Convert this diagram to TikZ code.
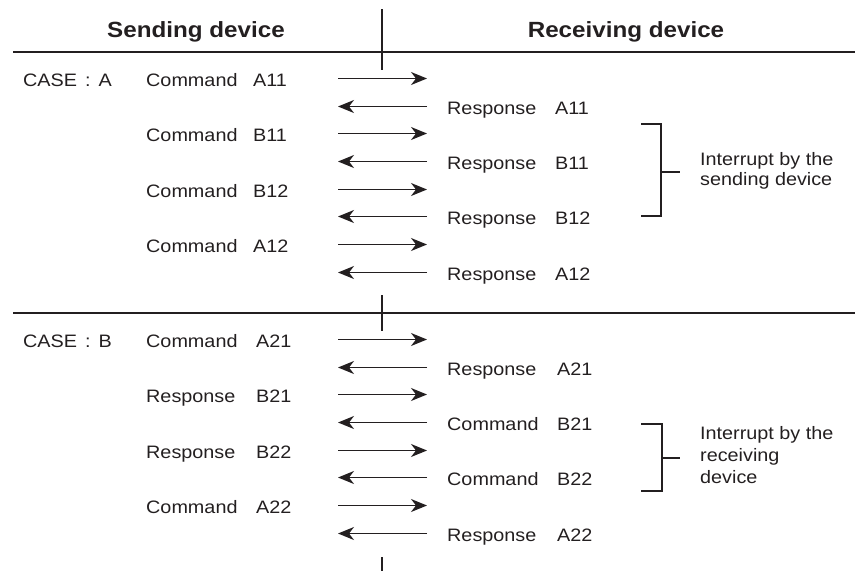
\documentclass[tikz,border=0pt]{standalone}
\usepackage{fontspec}
\setmainfont{Liberation Sans}[FakeStretch=1.1]
\usetikzlibrary{arrows.meta}
\definecolor{ink}{HTML}{231F20}
\begin{document}
\begin{tikzpicture}[x=1pt,y=-1pt,
 lbl/.style={anchor=base west, inner sep=0pt, font=\fontsize{18}{20}\selectfont, text=ink},
 hdr/.style={anchor=base, inner sep=0pt, font=\fontsize{22}{24}\selectfont\bfseries, text=ink},
 msg/.style={-{Stealth[length=16pt,width=13pt,inset=5pt]}, line width=1.3pt, draw=ink},
 divider/.style={line width=2.4pt, draw=ink},
 axis/.style={line width=1.5pt, draw=ink},
 brk/.style={line width=1.1pt, draw=ink}]
\useasboundingbox (0,0) rectangle (855,571);
% headers
\node[hdr] (hs) at (196,37) {Sending device};
\node[hdr] (hr) at (626,37) {Receiving device};
% dividers and axis
\coordinate (d1l) at (13,52); \coordinate (d1r) at (855,52);
\coordinate (d2l) at (13,313); \coordinate (d2r) at (855,313);
\draw[divider] (d1l) -- (d1r);
\draw[divider] (d2l) -- (d2r);
\coordinate (a1t) at (382,9); \coordinate (a1b) at (382,70);
\coordinate (a2t) at (382,295); \coordinate (a2b) at (382,331);
\coordinate (a3t) at (382,557); \coordinate (a3b) at (382,571);
\draw[axis] (a1t) -- (a1b);
\draw[axis] (a2t) -- (a2b);
\draw[axis] (a3t) -- (a3b);
% case labels
\node[lbl] (caseA) at (23,86.5) {CASE\hspace{8pt}:\hspace{8pt}A};
\node[lbl] (caseB) at (23,347.5) {CASE\hspace{8pt}:\hspace{8pt}B};
% case A messages
\foreach \i/\w/\c in {1/Command/A11,2/Response/A11,3/Command/B11,4/Response/B11,5/Command/B12,6/Response/B12,7/Command/A12,8/Response/A12}{
  \pgfmathsetmacro\yy{round(78+27.7*(\i-1))+0.5}
  \coordinate (aL\i) at (338,\yy);
  \coordinate (aR\i) at (427,\yy);
  \ifodd\i
    \node[lbl] (aw\i) at (146,\yy+8) {\w};
    \node[lbl] (ac\i) at (253,\yy+8) {\c};
    \draw[msg] (aL\i) -- (aR\i);
  \else
    \node[lbl] (aw\i) at (447,\yy+8) {\w};
    \node[lbl] (ac\i) at (555,\yy+8) {\c};
    \draw[msg] (aR\i) -- (aL\i);
  \fi
}
% case B messages
\foreach \i/\w/\c in {1/Command/A21,2/Response/A21,3/Response/B21,4/Command/B21,5/Response/B22,6/Command/B22,7/Command/A22,8/Response/A22}{
  \pgfmathsetmacro\yy{round(339+27.7*(\i-1))+0.5}
  \coordinate (bL\i) at (338,\yy);
  \coordinate (bR\i) at (427,\yy);
  \ifodd\i
    \node[lbl] (bw\i) at (146,\yy+8) {\w};
    \node[lbl] (bc\i) at (256,\yy+8) {\c};
    \draw[msg] (bL\i) -- (bR\i);
  \else
    \node[lbl] (bw\i) at (447,\yy+8) {\w};
    \node[lbl] (bc\i) at (557,\yy+8) {\c};
    \draw[msg] (bR\i) -- (bL\i);
  \fi
}
% brackets
\coordinate (k1a) at (641,124); \coordinate (k1b) at (661,124);
\coordinate (k1c) at (661,216); \coordinate (k1d) at (641,216);
\coordinate (k1m) at (661,172); \coordinate (k1t) at (680,172);
\draw[brk] (k1a) -- (k1b) -- (k1c) -- (k1d);
\draw[brk] (k1m) -- (k1t);
\node[lbl] (i1a) at (700,165) {Interrupt by the};
\node[lbl] (i1b) at (700,185) {sending device};
\coordinate (k2a) at (641,424); \coordinate (k2b) at (662,424);
\coordinate (k2c) at (662,491); \coordinate (k2d) at (641,491);
\coordinate (k2m) at (662,458); \coordinate (k2t) at (680,458);
\draw[brk] (k2a) -- (k2b) -- (k2c) -- (k2d);
\draw[brk] (k2m) -- (k2t);
\node[lbl] (i2a) at (700,439) {Interrupt by the};
\node[lbl] (i2b) at (700,461) {receiving};
\node[lbl] (i2c) at (700,483) {device};
\end{tikzpicture}
\end{document}
